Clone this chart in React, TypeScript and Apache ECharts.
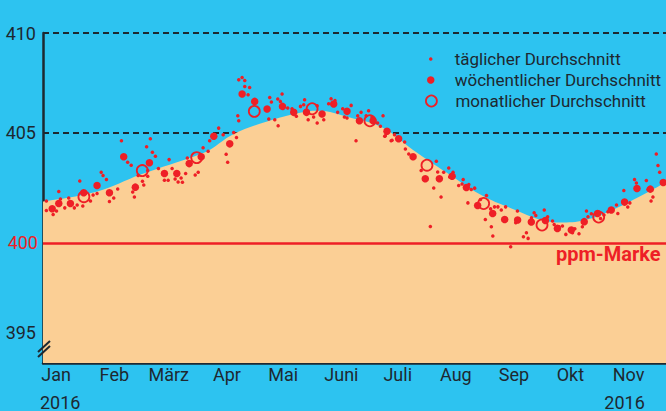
import React, { useEffect, useRef } from "react";
import * as echarts from "echarts";

// ---- Data ----
// x = day of year 2016 (0 = 1 Jan), y = CO2 in ppm
const MONTH_STARTS = [0, 31, 60, 91, 121, 152, 182, 213, 244, 274, 305, 335];
const LABELLED_MONTHS = [0, 31, 60, 91, 121, 152, 182, 213, 244, 274, 305];
const MONTH_LABELS = ["Jan", "Feb", "März", "Apr", "Mai", "Juni", "Juli", "Aug", "Sep", "Okt", "Nov", "Dez"];
const YEAR_LABEL = "2016";
const Y_TICKS = [395, 405, 410];
const PPM_MARK = 399.47;
const PPM_MARK_LABEL = "400";
const PPM_MARK_NAME = "ppm-Marke";

const SERIES_NAMES = ["täglicher Durchschnitt", "wöchentlicher Durchschnitt", "monatlicher Durchschnitt"];

const TREND = [
  [-7, 401.55], [22, 402.05], [45, 402.9], [76, 403.9], [82, 404.15], [94, 404.9],
  [112, 405.55], [130, 406.0], [139, 406.1], [157, 405.75], [174, 405.25], [190, 404.15],
  [208, 403.0], [226, 401.9], [244, 401.15], [262, 400.55], [270, 400.5], [283, 400.65],
  [297, 401.15], [315, 402.0], [325, 402.5], [345, 403.4], [366, 404.1],
];

const DAILY = [
  [-5.2, 401.57], [-5.2, 401.1], [-1.6, 400.9], [0.2, 401.07], [1.4, 402.05], [2.3, 401.68],
  [4.6, 401.23], [6.7, 401.72], [9.7, 401.23], [11.2, 401.37], [12.6, 402.58], [14.2, 401.32],
  [18.3, 401.57], [19.7, 401.87], [21.8, 401.95], [24, 403.02], [25, 402.85], [26.8, 402.65],
  [28.4, 401.55], [30.7, 401.73], [32.8, 402.18], [34.8, 404.6], [38.1, 403.52], [40, 403.37],
  [40.8, 402.03], [41.7, 401.78], [43.7, 402.85], [46, 402.57], [46.7, 402.38], [48.2, 404.3],
  [48.8, 402.82], [48.8, 403.1], [50.2, 404.7], [51.3, 404.02], [52.9, 403.82], [54.5, 403.2],
  [57.7, 402.62], [59.7, 402.62], [60.2, 403.65], [61.8, 403.2], [63.4, 402.68], [65, 402.53],
  [66.6, 402.73], [67.3, 402.52], [69, 402.95], [69.9, 403.73], [74.1, 402.88], [75.7, 403.02],
  [78.3, 404.24], [81, 404.07], [81.8, 404.6], [86.6, 405.23], [89, 404.9], [90.6, 403.92],
  [91.4, 403.52], [94.6, 405.01], [96.1, 404.76], [96.8, 405.85], [97.3, 405.6], [97.3, 407.65],
  [99.1, 407.77], [100.5, 407.62], [100.5, 407.32], [102.3, 406.9], [103.1, 407.27], [113.3, 405.69],
  [113.8, 406.77], [114.7, 406.54], [116.5, 405.65], [118.1, 406.69], [118.3, 405.35], [119.5, 406.57],
  [120.4, 406.94], [123.4, 406.24], [125.7, 406.2], [128, 405.82], [130.2, 406.32], [131.9, 406.4],
  [132.4, 406.65], [134.3, 405.65], [137.2, 405.79], [139.1, 405.49], [139.1, 406.35], [142.6, 405.65],
  [145.2, 406.45], [146.5, 406.7], [148.6, 406.62], [150, 406.02], [152.7, 406.2], [153.6, 405.79],
  [155, 405.74], [157.2, 406.37], [159.8, 404.6], [160.7, 405.85], [162.5, 406.02], [165.2, 405.85],
  [166.5, 406.1], [168.3, 405.79], [171.3, 405.49], [172.8, 405.32], [174.2, 405.85], [175.1, 404.82],
  [175.4, 404.85], [178.5, 404.6], [179, 404.62], [180.3, 404.9], [185.7, 404.53], [186.1, 404.18],
  [187.9, 403.93], [194.5, 403.1], [199.4, 400.3], [201.2, 402.23], [202.6, 403.57], [203.3, 403.03],
  [205.1, 401.77], [206.5, 403.02], [209.2, 403.23], [209.7, 402.78], [211.5, 403.02], [214.5, 402.35],
  [216.3, 402.43], [216.9, 402.65], [219.4, 401.48], [219.9, 402.4], [221.2, 402.15], [223, 402.22],
  [226.1, 401.65], [228.7, 400.65], [229.3, 401.85], [231.5, 401.18], [231.9, 400.28], [232.7, 399.82],
  [233.6, 401.28], [235.4, 401.28], [237.2, 401.12], [239.5, 401.28], [242.2, 399.28], [244.9, 400.48],
  [245.8, 401.07], [249, 399.78], [250.6, 399.98], [251.5, 399.7], [253.3, 400.73], [254.7, 400.98],
  [255.6, 400.85], [260.1, 401.12], [261.9, 400.78], [264.5, 400.57], [265.4, 400.4], [268, 400.28],
  [269.8, 400.32], [271.6, 399.9], [275.1, 399.98], [276.4, 400.18], [278.6, 399.93], [280.4, 400.28],
  [282.6, 401.07], [283.4, 400.78], [285.2, 400.93], [290.1, 400.7], [291.9, 400.87], [294, 401.03],
  [298.6, 401.37], [299.3, 400.95], [302.5, 402.1], [304.6, 401.27], [305.7, 401.48], [308.2, 402.65],
  [309.2, 402.48], [314.5, 402.6], [315.4, 402.15], [317, 401.57], [318, 401.78], [319.8, 403.93],
  [320.7, 403.35], [321.6, 403.02],
];

const WEEKLY = [
  [-2.1, 401.19], [1.4, 401.45], [7.6, 401.45], [14.7, 401.99], [21.8, 402.35], [28.4, 401.99],
  [36.0, 403.79], [42.2, 402.27], [49.7, 403.49], [57.7, 402.95], [64.3, 402.95], [70.9, 403.45],
  [77.3, 403.79], [84.0, 404.82], [92.5, 404.44], [99.1, 406.94], [105.8, 406.57], [112.4, 406.19],
  [120.6, 406.32], [126.6, 406.02], [133.4, 406.02], [141.7, 405.94], [147.9, 406.44], [155.0, 406.07],
  [161.6, 405.6], [168.9, 405.6], [176.3, 405.07], [182.5, 404.7], [190.2, 403.79], [196.7, 402.69],
  [204.2, 402.69], [211.0, 402.82], [218.6, 402.25], [224.6, 401.35], [232.6, 400.95], [239.0, 400.65],
  [245.9, 400.62], [253.2, 400.52], [260.7, 400.6], [267.1, 400.2], [274.5, 400.12], [281.4, 400.54],
  [288.5, 400.95], [295.8, 401.12], [302.9, 401.52], [309.5, 402.2], [316.6, 402.17], [323.5, 402.5],
];

const MONTHLY = [
  [14.8, 401.79], [45.9, 403.1], [74.9, 403.75], [105.6, 406.07], [136.4, 406.2],
  [167.2, 405.6], [197.6, 403.37], [227.8, 401.45], [258.9, 400.37], [289.1, 400.77],
];

// ---- Styles ----
const BG = "#2DC3F0";
const PEACH = "#FBCF95";
const RED = "#EE1F26";
const DARK = "#1E2830";
const FONT = "Roboto, 'Noto Sans', sans-serif";

export default function App() {
  const ref = useRef<HTMLDivElement>(null);

  useEffect(() => {
    if (!ref.current) return;
    const chart = echarts.init(ref.current, null, { renderer: "svg" });

    const legendBase = (name: string, size: number, left: number, top: number, itemStyle: any) => ({
      orient: "vertical",
      left,
      top,
      itemWidth: 38,
      itemHeight: size,
      selectedMode: false,
      data: [{ name, icon: "circle", itemStyle }],
      textStyle: { color: DARK, fontSize: 17, fontFamily: FONT, lineHeight: 20 },
    });

    const option: any = {
      animation: false,
      backgroundColor: BG,
      textStyle: { fontFamily: FONT },
      grid: { left: 43, top: 33, right: 17, height: 331, containLabel: false },
      xAxis: {
        type: "value",
        min: -7,
        max: 366,
        axisLine: { show: true, onZero: false, lineStyle: { color: DARK, width: 2.5 } },
        axisTick: {
          show: true,
          inside: true,
          length: 6,
          customValues: MONTH_STARTS,
          lineStyle: { color: DARK, width: 1.5 },
        },
        splitLine: { show: false },
        axisLabel: {
          customValues: LABELLED_MONTHS,
          margin: 1,
          formatter: (v: number) => {
            const i = MONTH_STARTS.indexOf(v);
            const m = MONTH_LABELS[i] ?? "";
            if (i === 0) return `{m|${m}}\n{yl|${YEAR_LABEL}}`;
            if (i === 10) return `{m|${m}}\n{yr|${YEAR_LABEL}}`;
            return `{m|${m}}`;
          },
          rich: {
            m: { fontSize: 18, color: DARK, fontFamily: FONT, lineHeight: 20 },
            yl: { fontSize: 18, color: DARK, fontFamily: FONT, lineHeight: 36, padding: [0, 0, 0, 8] },
            yr: { fontSize: 18, color: DARK, fontFamily: FONT, lineHeight: 36, padding: [0, 8, 0, 0] },
          },
        },
      },
      yAxis: {
        type: "value",
        min: 393.45,
        max: 410,
        axisLine: { show: true, onZero: false, lineStyle: { color: DARK, width: 2.5 } },
        axisTick: { show: false, customValues: Y_TICKS },
        axisLabel: { customValues: Y_TICKS, color: DARK, fontSize: 18, fontFamily: FONT, margin: 7 },
        splitLine: { show: true, lineStyle: { color: DARK, width: 2, type: [6, 4] } },
      },
      legend: [
        legendBase(SERIES_NAMES[0], 3.5, 424, 44, { color: RED }),
        legendBase(SERIES_NAMES[1], 7.5, 422, 65, { color: RED }),
        legendBase(SERIES_NAMES[2], 11, 420, 86, {
          color: "rgba(0,0,0,0)",
          borderColor: RED,
          borderWidth: 1.8,
        }),
      ],
      graphic: [
        {
          type: "text",
          left: 556,
          top: 244,
          z: 10,
          style: { text: PPM_MARK_NAME, fill: RED, font: `bold 20px ${FONT}` },
        },
        {
          type: "line",
          z: 10,
          shape: { x1: 38, y1: 352, x2: 50, y2: 341 },
          style: { stroke: DARK, lineWidth: 2 },
        },
        {
          type: "line",
          z: 10,
          shape: { x1: 38, y1: 357, x2: 50, y2: 346 },
          style: { stroke: DARK, lineWidth: 2 },
        },
      ],
      series: [
        {
          name: "Trend",
          type: "line",
          data: TREND,
          smooth: 0.4,
          symbol: "none",
          lineStyle: { width: 0 },
          areaStyle: { color: PEACH, opacity: 1, origin: "start" },
          z: 1,
          silent: true,
          markLine: {
            silent: true,
            symbol: ["none", "none"],
            lineStyle: { color: RED, width: 2.5, type: "solid" },
            label: {
              show: true,
              position: "start",
              formatter: PPM_MARK_LABEL,
              color: RED,
              fontSize: 18,
              fontFamily: FONT,
              distance: 5,
            },
            data: [{ yAxis: PPM_MARK }],
          },
        },
        {
          name: SERIES_NAMES[0],
          type: "scatter",
          data: DAILY,
          symbol: "circle",
          symbolSize: 3.5,
          itemStyle: { color: RED, opacity: 1 },
          z: 3,
        },
        {
          name: SERIES_NAMES[1],
          type: "scatter",
          data: WEEKLY,
          symbol: "circle",
          symbolSize: 7.5,
          itemStyle: { color: RED, opacity: 1 },
          z: 4,
        },
        {
          name: SERIES_NAMES[2],
          type: "scatter",
          data: MONTHLY,
          symbol: "circle",
          symbolSize: 11,
          itemStyle: { color: "rgba(0,0,0,0)", borderColor: RED, borderWidth: 1.8, opacity: 1 },
          z: 5,
        },
      ],
    };

    chart.setOption(option);
    return () => chart.dispose();
  }, []);

  return (
    <div
      ref={ref}
      style={{ position: "fixed", left: 0, top: 0, width: 760, height: 411 }}
    />
  );
}
